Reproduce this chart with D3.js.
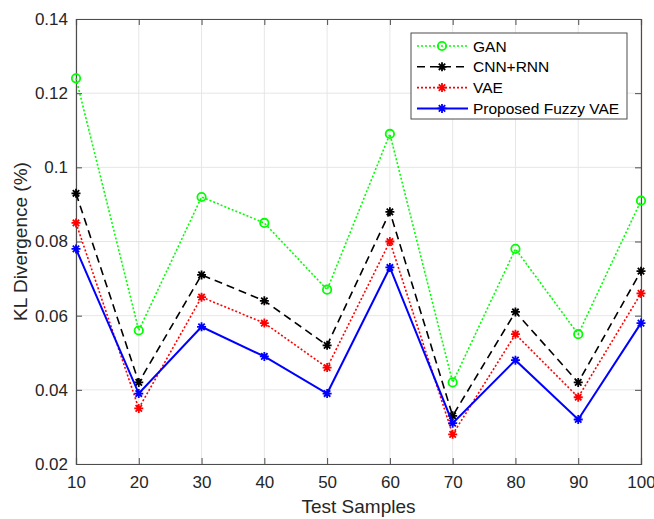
<!DOCTYPE html>
<html><head><meta charset="utf-8">
<script src="https://cdn.jsdelivr.net/npm/d3@7"></script>
<style>body{margin:0;background:#fff}svg{display:block}text{font-family:Arial,"Liberation Sans",Helvetica,sans-serif}</style>
</head><body>
<svg id="c" width="654" height="519"></svg>
<script>
const samples = [10,20,30,40,50,60,70,80,90,100];
const ganValues = [0.124,0.056,0.092,0.085,0.067,0.109,0.042,0.078,0.055,0.091];
const cnnRnnValues = [0.093,0.042,0.071,0.064,0.052,0.088,0.033,0.061,0.042,0.072];
const vaeValues = [0.085,0.035,0.065,0.058,0.046,0.080,0.028,0.055,0.038,0.066];
const fuzzyVaeValues = [0.078,0.039,0.057,0.049,0.039,0.073,0.031,0.048,0.032,0.058];
const xTicks = [10,20,30,40,50,60,70,80,90,100];
const yTicks = [0.02,0.04,0.06,0.08,0.1,0.12,0.14];
const seriesNames = ["GAN","CNN+RNN","VAE","Proposed Fuzzy VAE"];

const series = [
  {name:seriesNames[0], values:ganValues, color:"#00ff00", dash:"2,2", width:1.6, marker:"circle"},
  {name:seriesNames[1], values:cnnRnnValues, color:"#000000", dash:"8,5", width:1.6, marker:"star"},
  {name:seriesNames[2], values:vaeValues, color:"#ff0000", dash:"2,2", width:1.6, marker:"star"},
  {name:seriesNames[3], values:fuzzyVaeValues, color:"#0000ff", dash:null, width:2, marker:"star"}
];

const svg = d3.select("#c");
const L=76, R=641, T=19, B=464;
const x = d3.scaleLinear().domain([10,100]).range([L,R]);
const y = d3.scaleLinear().domain([0.02,0.14]).range([B,T]);

// grid
const g = svg.append("g");
g.selectAll(".gx").data(xTicks).join("line")
  .attr("x1",d=>x(d)).attr("x2",d=>x(d)).attr("y1",T).attr("y2",B)
  .attr("stroke","#e6e6e6").attr("stroke-width",1);
g.selectAll(".gy").data(yTicks).join("line")
  .attr("x1",L).attr("x2",R).attr("y1",d=>y(d)).attr("y2",d=>y(d))
  .attr("stroke","#e6e6e6").attr("stroke-width",1);

// axes
const axB = d3.axisBottom(x).tickValues(xTicks).tickSize(-6).tickPadding(12).tickFormat(d3.format("d"));
const axL = d3.axisLeft(y).tickValues(yTicks).tickSize(-6).tickPadding(8).tickFormat(d=>d3.format("")(+d.toFixed(2)));
const axT = d3.axisTop(x).tickValues(xTicks).tickSize(-6).tickFormat("");
const axR = d3.axisRight(y).tickValues(yTicks).tickSize(-6).tickFormat("");
function style(sel){
  sel.select(".domain").attr("stroke","#4d4d4d").attr("stroke-width",1.2);
  sel.selectAll(".tick line").attr("stroke","#4d4d4d");
  sel.selectAll("text").attr("font-size",17).attr("fill","#262626").attr("font-family","Arial, 'Liberation Sans', sans-serif");
}
svg.append("g").attr("transform",`translate(0,${B})`).call(axB).call(style);
svg.append("g").attr("transform",`translate(${L},0)`).call(axL).call(style);
svg.append("g").attr("transform",`translate(0,${T})`).call(axT).call(style);
svg.append("g").attr("transform",`translate(${R},0)`).call(axR).call(style);

// titles
svg.append("text").attr("x",(L+R)/2).attr("y",513).attr("text-anchor","middle")
  .attr("font-size",19).attr("fill","#262626").text("Test Samples");
svg.append("text").attr("transform",`translate(27,${(T+B)/2}) rotate(-90)`).attr("text-anchor","middle")
  .attr("font-size",19).attr("fill","#262626").text("KL Divergence (%)");

function drawMarker(sel, type, color, cx, cy){
  if(type==="circle"){
    sel.append("circle").attr("cx",cx).attr("cy",cy).attr("r",4.2)
      .attr("fill","none").attr("stroke",color).attr("stroke-width",1.8);
  } else {
    const s=4.5, d=3.2;
    const p=`M${cx-s},${cy}L${cx+s},${cy}M${cx},${cy-s}L${cx},${cy+s}M${cx-d},${cy-d}L${cx+d},${cy+d}M${cx-d},${cy+d}L${cx+d},${cy-d}`;
    sel.append("path").attr("d",p).attr("stroke",color).attr("stroke-width",1.8).attr("fill","none");
  }
}

const line = d3.line().x((d,i)=>x(samples[i])).y(d=>y(d));
series.forEach(s=>{
  svg.append("path").datum(s.values).attr("d",line).attr("fill","none")
    .attr("stroke",s.color).attr("stroke-width",s.width)
    .attr("stroke-dasharray",s.dash);
  const mg = svg.append("g");
  s.values.forEach((v,i)=>drawMarker(mg,s.marker,s.color,x(samples[i]),y(v)));
});

// legend
const lg = svg.append("g");
lg.append("rect").attr("x",411).attr("y",33).attr("width",216).attr("height",86)
  .attr("fill","#fff").attr("stroke","#4d4d4d").attr("stroke-width",1);
series.forEach((s,i)=>{
  const yy = 46 + i*20.8;
  lg.append("line").attr("x1",417).attr("x2",468).attr("y1",yy).attr("y2",yy)
    .attr("stroke",s.color).attr("stroke-width",s.width).attr("stroke-dasharray",s.dash);
  drawMarker(lg,s.marker,s.color,442,yy);
  lg.append("text").attr("x",473).attr("y",yy+5.5).attr("font-size",15.5).attr("fill","#000").text(s.name);
});
</script>
</body></html>
